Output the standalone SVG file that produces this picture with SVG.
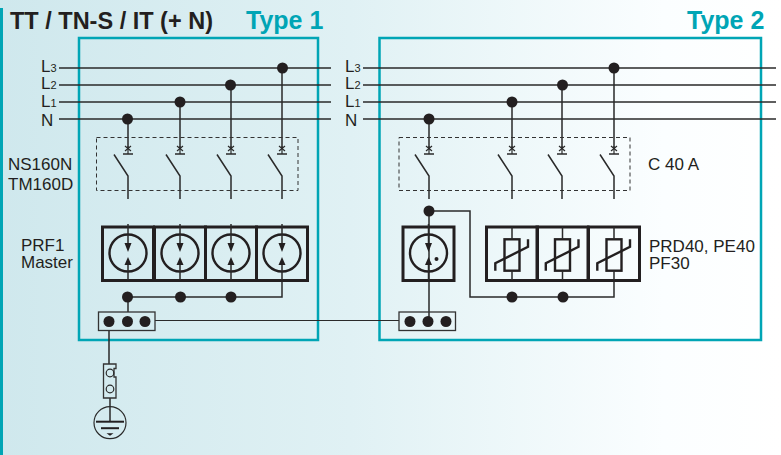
<svg xmlns="http://www.w3.org/2000/svg" width="781" height="455" viewBox="0 0 781 455">
<defs>
<linearGradient id="bg" x1="0" y1="0" x2="1" y2="0"><stop offset="0" stop-color="#cfe8ed"/><stop offset="0.45" stop-color="#e0f1f4"/><stop offset="0.85" stop-color="#fbfeff"/><stop offset="1" stop-color="#ffffff"/></linearGradient>
<g id="sw"><path d="M-3-3 3 2M3-3-3 2" class="t"/><path d="M0-3V5" class="t"/><path d="M-5 5H5" class="w"/><path d="M-14 5.500 0 27V50" class="w"/></g>
<g id="spd"><rect x="-25.500" y="-26" width="51" height="53.500" class="b"/><circle r="18.500" class="c"/><path d="M0-29V-9M0 11V27" class="w"/><path d="M-3.500-10H3.500L0-1ZM-3.500 12H3.500L0 4Z" class="f"/></g>
<g id="var"><rect x="-25.500" y="-26" width="51" height="53.500" class="b"/><rect x="-7.500" y="-13.700" width="15" height="31.400" class="c"/><path d="M0-26V-13.700M0 17.700V27" class="w"/><path d="M-16.700 17.700V10.300L16-6.300V-13.700" class="c"/></g>
<g id="ground"><circle r="16" class="t"/><path d="M-14-1H14" class="g"/><path d="M-9 5.500H9" class="g"/><path d="M-3.500 10.500H3.500L0 13Z" class="f"/></g>
</defs>
<style>
text{font-family:"Liberation Sans",Arial,sans-serif;fill:#231f20}
.lab{font-size:17px}
.sub{font-size:11px}
.h{font-size:23.500px;font-weight:bold}
.ty{font-size:25px;font-weight:bold;fill:#00a5b5}
.w{fill:none;stroke:#2a2a2a;stroke-width:1.500}
.n{fill:none;stroke:#2a2a2a;stroke-width:1}
.t{fill:none;stroke:#2a2a2a;stroke-width:1.200}
.g{fill:none;stroke:#231f20;stroke-width:2}
.b{fill:none;stroke:#231f20;stroke-width:3}
.c{fill:none;stroke:#231f20;stroke-width:2.400}
.f{fill:#231f20;stroke:none}
.box{fill:none;stroke:#00a5b5;stroke-width:2.500}
.d{fill:none;stroke:#333;stroke-width:1;stroke-dasharray:4 3}
.s{fill:none;stroke:#333;stroke-width:1.300}
</style>
<rect width="781" height="455" fill="url(#bg)"/>
<rect x="0" y="8" width="3" height="447" fill="#00a5b5"/>
<g id="title"><text x="10" y="29" class="h">TT / TN-S / IT (+ N)</text></g>
<g id="type1-box"><rect x="79" y="38" width="239" height="302" class="box"/><text x="246" y="29" class="ty">Type 1</text></g>
<g id="type2-box"><rect x="379.500" y="38" width="381.500" height="302" class="box"/><text x="687" y="29" class="ty">Type 2</text></g>
<g id="connectors">
<path d="M59 68H331M59 85H331M59 102H331M59 119H331M363 68H776M363 85H776M363 102H776M363 119H776" class="w"/>
<path d="M128 119V149M180 102V149M231 85V149M282 68V149M429 119V149M512 102V149M562 85V149M614 68V149" class="w"/>
<path d="M128 297V312M128 297H231M282 280V297H231M109 330V364M110 398V422" class="w"/>
<path d="M155 320.500H399" class="n"/>
<path d="M429 211H470V297H614V280M429 211V320" class="w"/>
</g>
<g id="labels-left">
<text x="41" y="72" class="lab">L<tspan class="sub">3</tspan></text>
<text x="41" y="89" class="lab">L<tspan class="sub">2</tspan></text>
<text x="41" y="106.500" class="lab">L<tspan class="sub">1</tspan></text>
<text x="41" y="125.500" class="lab">N</text>
<text x="8" y="169.500" class="lab">NS160N</text>
<text x="8" y="189.500" class="lab">TM160D</text>
<text x="21" y="251" class="lab">PRF1</text>
<text x="21" y="267.500" class="lab">Master</text>
</g>
<g id="labels-right">
<text x="345" y="72" class="lab">L<tspan class="sub">3</tspan></text>
<text x="345" y="89" class="lab">L<tspan class="sub">2</tspan></text>
<text x="345" y="106.500" class="lab">L<tspan class="sub">1</tspan></text>
<text x="345" y="125.500" class="lab">N</text>
<text x="648" y="169.500" class="lab">C 40 A</text>
<text x="649" y="251.500" class="lab">PRD40, PE40</text>
<text x="649" y="268.500" class="lab">PF30</text>
</g>
<g id="nodes-t1" class="f">
<circle cx="127.500" cy="119" r="5.500"/><circle cx="180" cy="102" r="5.500"/><circle cx="230.500" cy="85" r="5.500"/><circle cx="282.500" cy="68" r="5.500"/>
<circle cx="127.500" cy="297" r="5.500"/><circle cx="180.500" cy="297" r="5.500"/><circle cx="231" cy="297" r="5.500"/>
</g>
<g id="nodes-t2" class="f">
<circle cx="429" cy="119" r="5.500"/><circle cx="512" cy="102" r="5.500"/><circle cx="562.500" cy="85" r="5.500"/><circle cx="614" cy="68" r="5.500"/>
<circle cx="429" cy="211" r="5.500"/><circle cx="512" cy="297" r="5.500"/><circle cx="563" cy="297" r="5.500"/>
</g>
<g id="breaker-t1"><rect x="96.500" y="137.500" width="201.500" height="53" class="d"/>
<use href="#sw" x="128" y="149"/><use href="#sw" x="180" y="149"/><use href="#sw" x="231" y="149"/><use href="#sw" x="282" y="149"/></g>
<g id="breaker-t2"><rect x="399" y="137.500" width="231" height="53" class="d"/>
<use href="#sw" x="429" y="149"/><use href="#sw" x="512" y="149"/><use href="#sw" x="562" y="149"/><use href="#sw" x="614" y="149"/></g>
<g id="prf1">
<use href="#spd" x="128" y="253"/><use href="#spd" x="180" y="253"/><use href="#spd" x="231" y="253"/><use href="#spd" x="282" y="253"/>
</g>
<g id="spd-t2"><use href="#spd" x="428.500" y="253"/><circle cx="436.500" cy="259" r="2" class="f"/></g>
<g id="varistors">
<use href="#var" x="512" y="253"/><use href="#var" x="562.500" y="253"/><use href="#var" x="614" y="253"/>
</g>
<g id="terminal-t1"><rect x="98.500" y="312" width="56.500" height="18.500" class="s"/><circle cx="109" cy="321.500" r="5.500" class="f"/><circle cx="127.500" cy="321.500" r="5.500" class="f"/><circle cx="145" cy="321.500" r="5.500" class="f"/></g>
<g id="terminal-t2"><rect x="399" y="312" width="56.500" height="18.500" class="s"/><circle cx="410" cy="321.500" r="5.500" class="f"/><circle cx="428" cy="321.500" r="5.500" class="f"/><circle cx="446" cy="321.500" r="5.500" class="f"/></g>
<g id="disconnector"><path d="M103.500 364H116V368.500H114V377H116V398H103.500Z" class="s"/><circle cx="110" cy="373" r="3.800" class="t"/><circle cx="110" cy="389" r="3.800" class="t"/></g>
<g id="earth"><use href="#ground" x="110" y="422.700"/></g>
</svg>
